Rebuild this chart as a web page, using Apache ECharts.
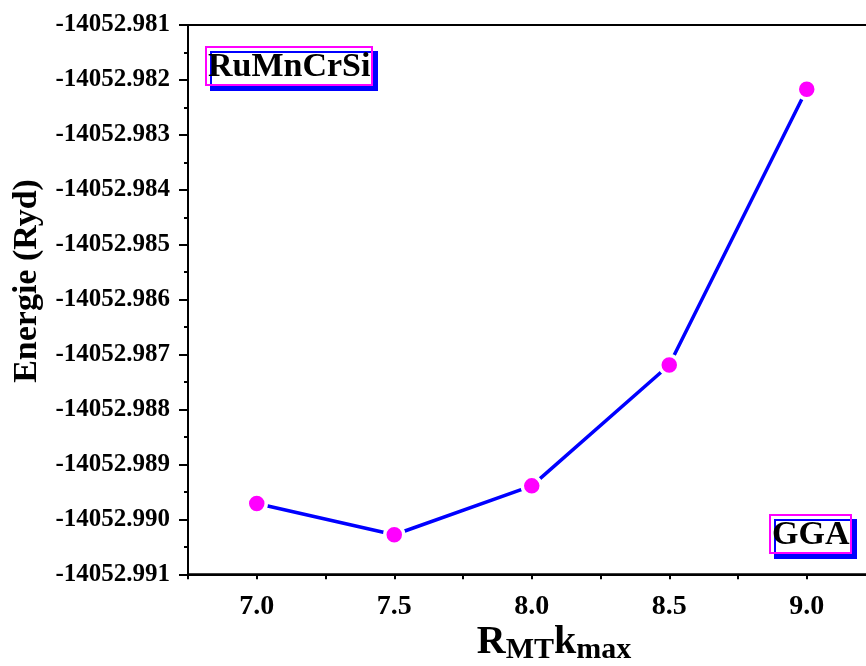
<!DOCTYPE html>
<html>
<head>
<meta charset="utf-8">
<script src="https://cdn.jsdelivr.net/npm/echarts@6/dist/echarts.min.js"></script>
<style>
  html, body { margin: 0; padding: 0; background: #fff; overflow: hidden; }
  /* the frame runs a little past the right edge of the window */
  #chart { width: 880px; height: 666px; }
</style>
</head>
<body>
<div id="chart"></div>
<script>
// Total energy against the R_MT*k_max cutoff (GGA)
const kmax = [7.0, 7.5, 8.0, 8.5, 9.0];
const energie = [-14052.98971, -14052.99028, -14052.98939, -14052.98719, -14052.98217];

const xMin = 6.75, xMax = 9.25, xStep = 0.25;
const yMin = -14052.991, yMax = -14052.981, yStep = 0.001;

const compound = 'RuMnCrSi';
const method = 'GGA';

const FONT = '"Liberation Serif", "Times New Roman", serif';

const chart = echarts.init(document.getElementById('chart'), null, { renderer: 'canvas' });

const boxLabel = (text, pos) => Object.assign({
  text: text,
  padding: [3, 2, 0, 2],
  backgroundColor: '#ffffff',
  borderColor: '#ff00ff',
  borderWidth: 2,
  shadowColor: '#0000ff',
  shadowBlur: 0,
  shadowOffsetX: 5,
  shadowOffsetY: 5,
  textStyle: {
    fontFamily: FONT, fontWeight: 'bold', fontSize: 34,
    color: '#000', lineHeight: 35
  }
}, pos);

chart.setOption({
  animation: false,
  backgroundColor: '#ffffff',
  title: [
    boxLabel(compound, { left: 206, top: 47 }),
    boxLabel(method, { left: 770, top: 515 })
  ],
  grid: {
    left: 188, top: 25, width: 687.5, height: 549.3,
    show: true, borderColor: '#000', borderWidth: 2
  },
  xAxis: {
    type: 'value',
    min: xMin, max: xMax, interval: xStep,
    axisLine: { show: true, lineStyle: { color: '#000', width: 2 } },
    axisTick: { show: true, inside: false, length: 5, lineStyle: { color: '#000', width: 2 } },
    splitLine: { show: false },
    axisLabel: {
      margin: 18,
      fontFamily: FONT, fontWeight: 'bold', fontSize: 28, color: '#000',
      formatter: v => (Math.abs(v * 2 - Math.round(v * 2)) < 1e-6 && v > xMin && v < xMax) ? v.toFixed(1) : ''
    }
  },
  yAxis: {
    type: 'value',
    min: yMin, max: yMax, interval: yStep,
    axisLine: { show: true, lineStyle: { color: '#000', width: 2 } },
    axisTick: { show: true, inside: false, length: 9, lineStyle: { color: '#000', width: 2 } },
    minorTick: { show: true, splitNumber: 2, length: 4, lineStyle: { color: '#000', width: 2 } },
    splitLine: { show: false },
    axisLabel: {
      margin: 18,
      fontFamily: FONT, fontWeight: 'bold', fontSize: 25, color: '#000',
      formatter: v => v.toFixed(3)
    }
  },
  graphic: [
    {
      type: 'text',
      x: 27, y: 281, rotation: Math.PI / 2,
      style: {
        text: 'Energie (Ryd)',
        fontFamily: FONT, fontWeight: 'bold', fontSize: 34, fill: '#000',
        align: 'center', verticalAlign: 'middle'
      }
    },
    {
      type: 'text',
      x: 554, y: 645,
      style: {
        text: '{b|R}{s|MT}{b|k}{s|max}',
        align: 'center', verticalAlign: 'middle',
        rich: {
          b: { fontFamily: FONT, fontWeight: 'bold', fontSize: 40, lineHeight: 40, padding: [0, 0, 4, 0], fill: '#000' },
          s: { fontFamily: FONT, fontWeight: 'bold', fontSize: 30, lineHeight: 30, verticalAlign: 'bottom', fill: '#000' }
        }
      }
    }
  ],
  series: [{
    type: 'line',
    data: kmax.map((k, i) => [k, energie[i]]),
    lineStyle: { color: '#0000ff', width: 3.5 },
    symbol: 'circle',
    symbolSize: 19,
    itemStyle: { color: '#ff00ff', borderColor: '#ffffff', borderWidth: 3.5 },
    z: 3
  }]
});
</script>
</body>
</html>
